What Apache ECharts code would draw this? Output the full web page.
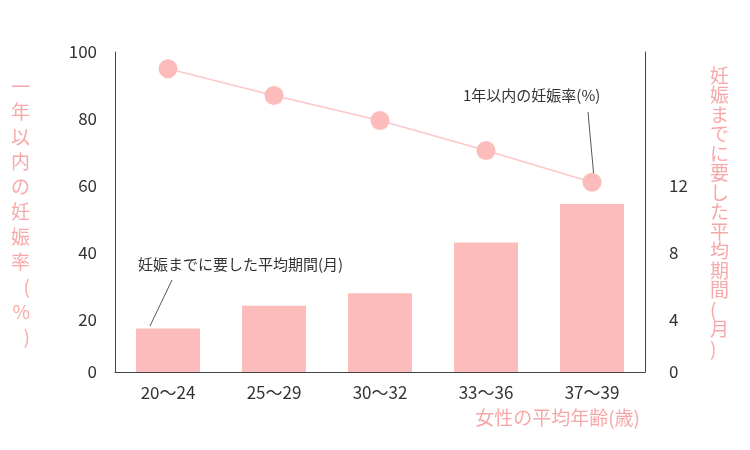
<!DOCTYPE html><html><head><meta charset="utf-8"><script src="https://cdn.jsdelivr.net/npm/echarts@6/dist/echarts.min.js"></script></head><body style="margin:0"><div id="c" style="width:750px;height:450px"></div><script>
const categories=['20〜24','25〜29','30〜32','33〜36','37〜39'];
const months=[3.45,4.8,5.55,8.6,10.9];
const rate=[95,87,79.5,70.5,61];
const leftTicks=[4.2,20,40,60,80,100];
const rightTicks=[0.84,4,8,12];
const pink='#f7a9a9', fill='#fdbcbc', dark='#333', font='"Noto Sans CJK JP"';
const vert=s=>s.split('').join('\n');
const ch=echarts.init(document.getElementById('c'));
ch.setOption({
 textStyle:{fontFamily:font},
 grid:{left:115,right:105,top:52,bottom:78},
 xAxis:{type:'category',data:categories,axisLine:{lineStyle:{color:'#444'}},axisTick:{show:false},
  axisLabel:{color:dark,fontSize:17,margin:12},name:'女性の平均年齢(歳)',nameLocation:'end',
  nameTextStyle:{color:pink,fontSize:19,align:'right',verticalAlign:'top',padding:[36,0,0,0]},nameGap:-5},
 yAxis:[{type:'value',min:4.2,max:100,splitLine:{show:false},axisLine:{show:true,lineStyle:{color:'#444'}},
  axisTick:{show:false},axisLabel:{color:dark,fontSize:17,margin:18,customValues:leftTicks,formatter:v=>v<5?'0':v},
  name:vert('一年以内の妊娠率(%)'),nameLocation:'middle',nameRotate:0,nameGap:85,
  nameTextStyle:{color:pink,fontSize:19,lineHeight:25}},
  {type:'value',min:0.84,max:20,splitLine:{show:false},axisLine:{show:true,lineStyle:{color:'#444'}},
  axisTick:{show:false},axisLabel:{color:dark,fontSize:17,margin:24,customValues:rightTicks,formatter:v=>v<1?'0':v},
  name:vert('妊娠までに要した平均期間(月)'),nameLocation:'middle',nameRotate:0,nameGap:65,
  nameTextStyle:{color:pink,fontSize:19,lineHeight:19.5}}],
 series:[{type:'bar',yAxisIndex:1,data:months,barWidth:64,itemStyle:{color:fill}},
  {type:'line',yAxisIndex:0,data:rate,symbol:'circle',symbolSize:19,lineStyle:{color:'#fcc8c8',width:1.5},itemStyle:{color:fill}}],
 graphic:[
  {type:'text',left:463,top:88,style:{text:'1年以内の妊娠率(%)',fill:dark,font:'15px '+font}},
  {type:'line',shape:{x1:588,y1:112,x2:594,y2:178},style:{stroke:'#555',lineWidth:1}},
  {type:'text',left:138,top:257,style:{text:'妊娠までに要した平均期間(月)',fill:dark,font:'15px '+font}},
  {type:'line',shape:{x1:172,y1:280,x2:150,y2:326},style:{stroke:'#555',lineWidth:1}}]
});
</script></body></html>
